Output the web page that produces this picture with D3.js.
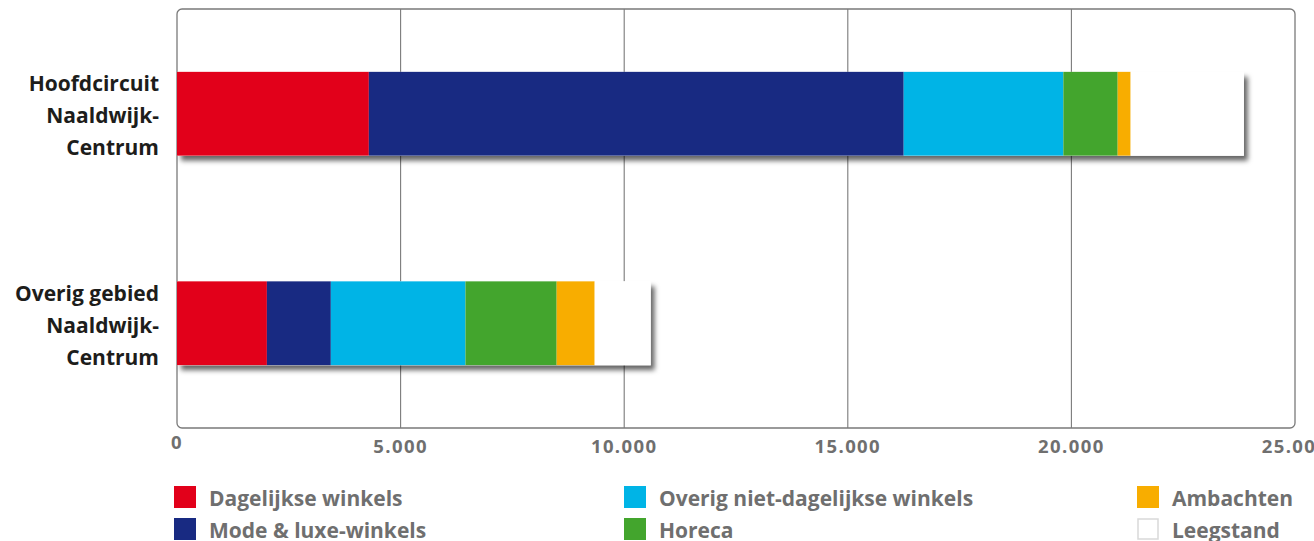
<!DOCTYPE html>
<html>
<head>
<meta charset="utf-8">
<script src="https://cdn.jsdelivr.net/npm/d3@7"></script>
<style>
  html, body { margin: 0; padding: 0; background: #ffffff; }
  svg { display: block; }
  text { font-family: "Open Sans", "DejaVu Sans", sans-serif; font-weight: 700; }
</style>
</head>
<body>
<svg id="chart" width="1314" height="541"></svg>
<script>
// Winkelvloeroppervlak per gebied, opgebouwd per branchegroep
const categories = ["Hoofdcircuit Naaldwijk-Centrum", "Overig gebied Naaldwijk-Centrum"];
const categoryLines = [["Hoofdcircuit", "Naaldwijk-", "Centrum"], ["Overig gebied", "Naaldwijk-", "Centrum"]];
const seriesNames = ["Dagelijkse winkels", "Mode & luxe-winkels", "Overig niet-dagelijkse winkels", "Horeca", "Ambachten", "Leegstand"];
const hoofdcircuit = [4290, 11960, 3570, 1215, 290, 2530];
const overigGebied = [2010, 1430, 3010, 2040, 850, 1250];
const seriesColors = ["#e2001a", "#182a82", "#00b4e6", "#43a52d", "#f8ad00", "#ffffff"];
const tickValues = [0, 5000, 10000, 15000, 20000, 25000];
const tickLabels = ["0", "5.000", "10.000", "15.000", "20.000", "25.000"];

const rows = categories.map((c, i) => {
  const vals = [hoofdcircuit, overigGebied][i];
  const r = { category: c };
  seriesNames.forEach((s, j) => { r[s] = vals[j]; });
  return r;
});

const svg = d3.select("#chart");
const plotLeft = 177, plotRight = 1295, plotTop = 9, plotBottom = 428;

const x = d3.scaleLinear().domain([0, 25000]).range([plotLeft, plotRight]);
const y = d3.scaleBand().domain(categories).range([plotTop, plotBottom])
  .paddingInner(0.6).paddingOuter(0.3);

const defs = svg.append("defs");
const shadow = defs.append("filter").attr("id", "barShadow")
  .attr("x", "-5%").attr("y", "-20%").attr("width", "115%").attr("height", "150%");
shadow.append("feDropShadow").attr("dx", 4).attr("dy", 5)
  .attr("stdDeviation", 2.6).attr("flood-color", "#000").attr("flood-opacity", 0.6);

// gridlines
svg.append("g").selectAll("line")
  .data(tickValues.slice(1, -1))
  .join("line")
  .attr("x1", d => x(d)).attr("x2", d => x(d))
  .attr("y1", plotTop).attr("y2", plotBottom)
  .attr("stroke", "#7a7a7a").attr("stroke-width", 1.1);

// plot frame
svg.append("rect")
  .attr("x", plotLeft).attr("y", plotTop)
  .attr("width", plotRight - plotLeft).attr("height", plotBottom - plotTop)
  .attr("rx", 5).attr("ry", 5)
  .attr("fill", "none").attr("stroke", "#7a7a7a").attr("stroke-width", 1.3);

const stack = d3.stack().keys(seriesNames);
const stacked = stack(rows);

// shadow under each whole bar
svg.append("g").selectAll("rect")
  .data(rows)
  .join("rect")
  .attr("x", x(0))
  .attr("y", d => y(d.category))
  .attr("width", d => x(d3.sum(seriesNames, s => d[s])) - x(0))
  .attr("height", y.bandwidth())
  .attr("fill", "#ffffff")
  .attr("filter", "url(#barShadow)");

// stacked segments
svg.append("g").selectAll("g")
  .data(stacked)
  .join("g")
  .attr("fill", (d, i) => seriesColors[i])
  .selectAll("rect")
  .data(d => d.map(p => ({ p, category: p.data.category })))
  .join("rect")
  .attr("x", d => x(d.p[0]))
  .attr("y", d => y(d.category))
  .attr("width", d => x(d.p[1]) - x(d.p[0]))
  .attr("height", y.bandwidth());

// category labels
const catG = svg.append("g");
categories.forEach((c, i) => {
  const cy = y(c) + y.bandwidth() / 2;
  const t = catG.append("text")
    .attr("text-anchor", "end")
    .attr("fill", "#1d1d1b")
    .attr("font-size", 21);
  categoryLines[i].forEach((line, k) => {
    t.append("tspan").attr("x", 159).attr("y", cy + (k - 1) * 32 + 9.5).text(line);
  });
});

// x axis labels
svg.append("g").selectAll("text")
  .data(tickValues)
  .join("text")
  .attr("x", d => x(d))
  .attr("y", (d, i) => i === 0 ? 449 : 453)
  .attr("text-anchor", "middle")
  .attr("fill", "#6f6f6f")
  .attr("font-size", 18.5)
  .attr("letter-spacing", 1.4)
  .text((d, i) => tickLabels[i]);

// legend
const legendCols = [[174, 209], [624, 659], [1137, 1172]];
const legendRows = [486, 518];
const leg = svg.append("g");
seriesNames.forEach((s, i) => {
  const col = Math.floor(i / 2), row = i % 2;
  const [sx, tx] = legendCols[col];
  const ry = legendRows[row];
  const isWhite = seriesColors[i] === "#ffffff";
  leg.append("rect")
    .attr("x", sx + (isWhite ? 1 : 0))
    .attr("y", ry + (isWhite ? 1 : 0))
    .attr("width", isWhite ? 20 : 22)
    .attr("height", isWhite ? 20 : 22)
    .attr("fill", seriesColors[i])
    .attr("stroke", isWhite ? "#d9d9d9" : "none")
    .attr("stroke-width", 1.5);
  leg.append("text")
    .attr("x", tx)
    .attr("y", ry + 19.5)
    .attr("fill", "#6f6f6f")
    .attr("font-size", 21)
    .text(s);
});
</script>
</body>
</html>
